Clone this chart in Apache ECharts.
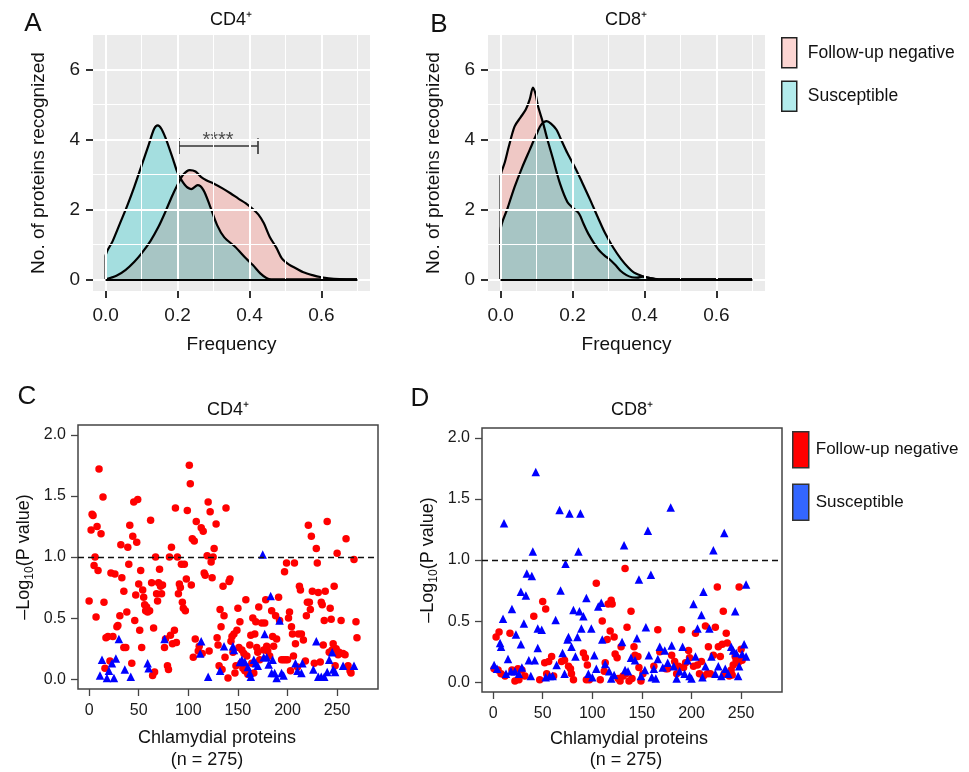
<!DOCTYPE html>
<html><head><meta charset="utf-8">
<script src="https://cdn.jsdelivr.net/npm/echarts@6/dist/echarts.min.js"></script>
<style>html,body{margin:0;padding:0;background:#fff}#c{width:969px;height:772px}</style>
</head><body><div id="c"></div>
<script>
// ---------- tick values ----------
const freqMajor = [0, 0.2, 0.4, 0.6];
const freqMinor = [0.1, 0.3, 0.5, 0.7];
const countMajor = [0, 2, 4, 6];
const countMinor = [1, 3, 5];
const densityRange = [0, 0.7];
const proteinTicks = [0, 50, 100, 150, 200, 250];
const pvalTicks = [0, 0.5, 1.0, 1.5, 2.0];
const pThreshold = 1.0;
const seriesNames = ['Follow-up negative', 'Susceptible'];

// ---------- A: CD4+ density (frequency, density) ----------
const cd4DensNeg = [[0,0],[0.03,0.1],[0.056,0.27],[0.08,0.5],[0.1,0.74],[0.125,1.1],[0.147,1.5],[0.165,1.9],[0.184,2.36],[0.2,2.7],[0.215,2.98],[0.234,3.12],[0.25,3.08],[0.265,2.93],[0.28,2.83],[0.3,2.74],[0.325,2.6],[0.347,2.46],[0.37,2.3],[0.39,2.17],[0.41,2.0],[0.425,1.85],[0.44,1.6],[0.456,1.22],[0.475,0.9],[0.49,0.6],[0.51,0.42],[0.53,0.31],[0.55,0.2],[0.575,0.12],[0.6,0.06],[0.62,0.03],[0.65,0.01],[0.7,0]];
const cd4DensSus = [[0,0],[0,0.65],[0.02,1.1],[0.04,1.6],[0.06,2.1],[0.08,2.65],[0.1,3.25],[0.12,3.85],[0.135,4.3],[0.145,4.4],[0.155,4.3],[0.17,3.95],[0.19,3.35],[0.2,3.05],[0.22,2.7],[0.238,2.58],[0.256,2.69],[0.272,2.55],[0.29,2.1],[0.31,1.55],[0.33,1.2],[0.36,0.93],[0.39,0.6],[0.41,0.4],[0.43,0.17],[0.447,0.04],[0.46,0],[0.7,0]];
const cd4Bracket = [0.202, 0.423];
const cd4BracketY = [3.58, 3.81, 4.03];
const cd4Signif = '****';

// ---------- B: CD8+ density ----------
const cd8DensNeg = [[0,0],[0,2.93],[0.012,3.35],[0.023,3.8],[0.039,4.37],[0.055,4.62],[0.07,4.85],[0.081,5.14],[0.09,5.48],[0.097,5.3],[0.104,4.95],[0.118,4.47],[0.13,4.0],[0.144,3.5],[0.165,2.74],[0.186,2.2],[0.2,2.05],[0.218,1.88],[0.23,1.6],[0.244,1.3],[0.27,0.88],[0.29,0.67],[0.302,0.58],[0.32,0.4],[0.334,0.24],[0.35,0.12],[0.365,0.06],[0.38,0.05],[0.395,0.08],[0.41,0.05],[0.43,0.01],[0.45,0],[0.7,0]];
const cd8DensSus = [[0,0],[0,1.4],[0.02,2.05],[0.039,2.64],[0.06,3.2],[0.081,3.7],[0.1,4.15],[0.113,4.42],[0.128,4.52],[0.14,4.45],[0.155,4.28],[0.17,3.95],[0.186,3.6],[0.21,3.13],[0.228,2.74],[0.25,2.25],[0.27,1.78],[0.29,1.33],[0.313,0.91],[0.335,0.58],[0.355,0.34],[0.37,0.2],[0.386,0.125],[0.4,0.07],[0.418,0.03],[0.444,0],[0.7,0]];

// ---------- C: CD4+ -log10(P) per protein ----------
const cd4Neg = [[0,0.64],[2,1.22],[3,1.35],[4,1.34],[5,0.93],[6,1.0],[7,0.51],[8,1.25],[9,0.89],[10,1.72],[12,1.19],[14,1.49],[15,0.63],[16,0.09],[17,0.34],[19,0.35],[21,0.15],[22,0.87],[24,0.35],[26,0.86],[28,0.43],[29,0.44],[31,0.52],[32,1.10],[33,0.83],[35,0.26],[35,0.72],[37,0.26],[38,0.55],[39,1.08],[40,0.94],[41,1.26],[43,0.13],[44,1.17],[45,1.45],[46,0.48],[47,0.69],[48,1.12],[49,1.47],[50,0.78],[51,0.40],[52,0.89],[53,0.26],[54,0.73],[55,0.67],[56,0.61],[57,0.56],[58,0.59],[59,0.55],[61,0.56],[62,1.30],[63,0.79],[64,0.03],[65,0.42],[66,0.06],[67,1.00],[68,0.70],[69,0.64],[70,0.79],[71,0.90],[72,0.76],[73,0.70],[74,0.77],[76,0.26],[77,0.33],[79,0.11],[80,0.08],[81,1.00],[82,0.36],[83,1.08],[84,0.29],[86,0.40],[87,1.40],[88,0.30],[89,1.00],[90,0.70],[91,0.78],[92,0.75],[93,0.94],[94,0.63],[95,0.58],[96,0.94],[97,0.56],[98,0.82],[99,1.38],[101,1.75],[102,1.60],[103,0.77],[104,1.15],[105,0.18],[106,1.13],[107,0.33],[108,1.29],[110,0.23],[111,0.27],[113,1.24],[114,0.21],[115,1.21],[116,0.87],[117,0.85],[119,1.01],[120,1.45],[121,0.23],[122,1.37],[123,0.96],[124,0.83],[125,1.0],[126,1.07],[128,1.27],[129,0.34],[130,0.28],[131,0.11],[132,0.57],[133,0.43],[134,0.08],[135,0.76],[136,0.52],[137,0.18],[138,1.40],[140,0.01],[141,0.80],[142,0.82],[143,0.31],[144,0.35],[145,0.22],[146,0.37],[147,0.05],[148,0.11],[149,0.40],[150,0.58],[151,0.26],[152,0.47],[153,0.13],[154,0.24],[155,0.09],[156,0.21],[157,0.07],[158,0.65],[159,0.19],[160,0.04],[162,0.28],[163,0.36],[164,0.13],[165,0.50],[166,0.05],[167,0.37],[168,0.47],[169,0.26],[170,0.22],[171,0.59],[172,0.16],[174,0.46],[176,0.24],[177,0.46],[178,0.65],[179,0.27],[180,0.23],[182,0.19],[184,0.56],[185,0.35],[186,0.27],[188,0.52],[189,0.33],[191,0.67],[192,0.48],[194,0.16],[196,0.16],[197,0.88],[198,0.16],[199,0.95],[200,0.16],[201,0.50],[202,0.55],[203,0.07],[204,0.43],[205,0.37],[206,0.19],[207,0.95],[208,0.29],[210,0.10],[211,0.37],[212,0.76],[213,0.73],[214,0.37],[216,0.32],[218,0.15],[219,0.52],[220,0.63],[221,1.26],[222,0.63],[223,0.57],[224,1.17],[225,0.72],[227,0.13],[229,1.07],[230,0.95],[231,0.71],[233,0.14],[234,0.63],[235,0.61],[236,0.28],[237,0.48],[238,0.72],[240,1.29],[242,0.22],[243,0.58],[244,0.49],[245,0.24],[246,0.29],[247,0.76],[248,0.11],[249,0.25],[250,1.03],[251,0.20],[252,0.22],[254,0.48],[256,0.21],[258,0.20],[259,1.15],[261,0.11],[263,0.07],[264,0.05],[267,0.98],[269,0.47],[270,0.34]];
const cd4Sus = [[11,0.03],[13,0.16],[18,0.01],[20,0.07],[23,0.13],[25,0.01],[27,0.17],[30,0.33],[36,0.08],[42,0.02],[59,0.13],[60,0.09],[76,0.33],[112,0.21],[113,0.31],[120,0.02],[132,0.07],[136,0.27],[145,0.27],[146,0.24],[152,0.14],[154,0.16],[157,0.14],[160,0.10],[162,0.05],[163,0.02],[166,0.16],[168,0.13],[170,0.11],[175,1.02],[176,0.18],[177,0.37],[179,0.18],[181,0.12],[183,0.68],[184,0.05],[185,0.16],[187,0.05],[189,0.01],[192,0.48],[194,0.05],[196,0.03],[208,0.13],[210,0.07],[214,0.05],[215,0.13],[226,0.08],[229,0.31],[231,0.02],[234,0.02],[237,0.02],[240,0.06],[242,0.16],[245,0.22],[246,0.08],[248,0.06],[256,0.11],[267,0.11]];

// ---------- D: CD8+ -log10(P) per protein ----------
const cd8Sus = [[1,0.14],[4,0.11],[7,0.32],[8,0.29],[10,0.52],[11,1.30],[13,0.07],[15,0.19],[18,0.09],[19,0.60],[22,0.09],[23,0.39],[26,0.07],[28,0.31],[29,0.12],[28,0.74],[31,0.48],[33,0.71],[34,0.89],[36,0.18],[38,0.05],[39,0.87],[40,1.07],[42,0.18],[43,1.72],[45,0.28],[45,0.44],[49,0.43],[53,0.04],[57,0.05],[60,0.05],[63,0.51],[64,0.14],[67,1.41],[68,0.75],[70,0.24],[72,0.07],[73,0.97],[75,0.35],[76,0.37],[77,1.38],[79,0.29],[81,0.59],[83,0.21],[85,0.37],[86,1.07],[87,0.58],[88,1.38],[89,0.44],[91,0.54],[94,0.69],[96,0.07],[99,0.44],[100,0.04],[102,0.22],[104,0.11],[106,0.62],[109,0.65],[110,0.35],[113,0.15],[117,0.09],[119,0.03],[122,0.06],[130,0.33],[132,1.12],[133,0.10],[136,0.09],[139,0.20],[143,0.18],[145,0.36],[147,0.84],[149,0.05],[153,0.10],[154,0.45],[156,1.24],[157,0.22],[159,0.88],[160,0.04],[162,0.11],[164,0.03],[166,0.19],[168,0.29],[171,0.12],[173,0.26],[176,0.16],[179,1.43],[180,0.30],[182,0.13],[185,0.03],[188,0.09],[191,0.29],[193,0.07],[196,0.18],[198,0.05],[200,0.03],[202,0.64],[204,0.21],[206,0.44],[210,0.55],[211,0.04],[212,0.74],[214,0.13],[218,0.44],[220,0.21],[222,1.08],[224,0.07],[227,0.13],[230,0.05],[233,1.22],[234,0.11],[237,0.07],[240,0.29],[242,0.26],[244,0.58],[245,0.24],[247,0.05],[248,0.13],[251,0.23],[253,0.31],[255,0.80],[255,0.21]];
const cd8Neg = [[1,0.11],[3,0.37],[5,0.10],[6,0.41],[8,0.07],[12,0.05],[17,0.40],[19,0.10],[22,0.01],[25,0.11],[26,0.02],[29,0.10],[32,0.05],[41,0.54],[47,0.02],[50,0.66],[52,0.16],[53,0.60],[54,0.07],[56,0.17],[59,0.21],[61,0.05],[69,0.17],[72,0.18],[76,0.13],[78,0.11],[79,0.07],[81,0.02],[91,0.24],[93,0.20],[94,0.02],[95,0.14],[97,0.02],[104,0.81],[108,0.02],[110,0.50],[112,0.09],[113,0.16],[115,0.35],[116,0.64],[118,0.42],[119,0.67],[120,0.64],[122,0.37],[123,0.23],[125,0.20],[126,0.03],[128,0.01],[129,0.29],[131,0.05],[133,0.93],[134,0.07],[135,0.45],[137,0.01],[139,0.58],[140,0.03],[142,0.29],[143,0.22],[146,0.21],[147,0.12],[149,0.01],[151,0.07],[162,0.13],[166,0.43],[168,0.25],[174,0.11],[176,0.11],[180,0.22],[183,0.17],[185,0.07],[187,0.13],[190,0.43],[192,0.12],[194,0.16],[197,0.26],[198,0.20],[202,0.13],[204,0.40],[206,0.14],[208,0.07],[210,0.17],[212,0.05],[214,0.46],[216,0.07],[217,0.29],[219,0.07],[222,0.22],[224,0.45],[226,0.78],[227,0.29],[229,0.21],[231,0.31],[232,0.58],[233,0.07],[235,0.40],[236,0.32],[238,0.05],[240,0.10],[241,0.06],[242,0.14],[244,0.21],[245,0.18],[247,0.16],[248,0.78],[250,0.27],[251,0.18]];

// ---------- styling ----------
const FONT = 'Liberation Sans, Arial, Helvetica, sans-serif';
const NEG_FILL = '#F8766D', SUS_FILL = '#00BFC4';

function gridLines(xi) {
  const d = [];
  freqMajor.forEach(v => d.push({xAxis: v, lineStyle: {width: 2}}));
  freqMinor.forEach(v => d.push({xAxis: v, lineStyle: {width: 1}}));
  countMajor.forEach(v => d.push({yAxis: v, lineStyle: {width: 2}}));
  countMinor.forEach(v => d.push({yAxis: v, lineStyle: {width: 1}}));
  return {
    type: 'line', xAxisIndex: xi, yAxisIndex: xi, data: [], silent: true, z: 1,
    markLine: {silent: true, symbol: ['none', 'none'], label: {show: false},
      lineStyle: {color: '#ffffff', type: 'solid', opacity: 1}, data: d, animation: false}
  };
}
function density(name, xi, data, color, withBase) {
  const s = {
    type: 'line', name: name, xAxisIndex: xi, yAxisIndex: xi, data: data,
    smooth: 0.3, showSymbol: false, symbol: 'none', z: 3,
    lineStyle: {color: '#000', width: 2.2},
    itemStyle: {color: color},
    areaStyle: {color: color, opacity: 0.3, origin: 0}
  };
  if (withBase) {
    s.markLine = {silent: true, symbol: ['none', 'none'], label: {show: false},
      lineStyle: {color: '#000', width: 2.2, type: 'solid'},
      data: [[{coord: [densityRange[0], 0]}, {coord: [densityRange[1], 0]}]]};
  }
  return s;
}
function topX(gi) {
  return {gridIndex: gi, type: 'value', min: -0.035, max: 0.735,
    axisLine: {show: false, onZero: false}, splitLine: {show: false},
    axisTick: {show: true, length: 7, customValues: freqMajor, lineStyle: {color: '#333', width: 2}},
    axisLabel: {customValues: freqMajor, formatter: v => v.toFixed(1), fontSize: 19, color: '#1a1a1a', margin: 15, fontFamily: FONT},
    name: 'Frequency', nameLocation: 'middle', nameGap: 44,
    nameTextStyle: {fontSize: 19, color: '#111', fontFamily: FONT}};
}
function topY(gi) {
  return {gridIndex: gi, type: 'value', min: -0.333, max: 6.98,
    axisLine: {show: false, onZero: false}, splitLine: {show: false},
    axisTick: {show: true, length: 7, customValues: countMajor, lineStyle: {color: '#333', width: 2}},
    axisLabel: {customValues: countMajor, fontSize: 19, color: '#1a1a1a', margin: 13, fontFamily: FONT},
    name: 'No. of proteins recognized', nameLocation: 'middle', nameGap: 45,
    nameTextStyle: {fontSize: 19, color: '#111', fontFamily: FONT}};
}
function botX(gi) {
  return {gridIndex: gi, type: 'value', min: -11.2, max: 291.2,
    axisLine: {show: false, onZero: false}, splitLine: {show: false},
    axisTick: {show: true, length: 7, customValues: proteinTicks, lineStyle: {color: '#444', width: 1.3}},
    axisLabel: {customValues: proteinTicks, fontSize: 16, color: '#1a1a1a', margin: 14, fontFamily: FONT}};
}
function botY(gi) {
  return {gridIndex: gi, type: 'value', min: -0.08, max: 2.08,
    axisLine: {show: false, onZero: false}, splitLine: {show: false},
    axisTick: {show: true, length: 7, customValues: pvalTicks, lineStyle: {color: '#444', width: 1.3}},
    axisLabel: {customValues: pvalTicks, formatter: v => v.toFixed(1), fontSize: 16, color: '#1a1a1a', margin: 12, fontFamily: FONT},
    name: '{m|–Log}{s|10}{m|(P value)}', nameLocation: 'middle', nameGap: 42,
    nameTextStyle: {color: '#111', fontFamily: FONT,
      rich: {m: {fontSize: 18, lineHeight: 24, color: '#111', fontFamily: FONT},
             s: {fontSize: 12, lineHeight: 12, verticalAlign: 'bottom', color: '#111', fontFamily: FONT}}}};
}
function pScatter(name, gi, data, color, symbol, size, withThreshold) {
  const s = {type: 'scatter', name: name, xAxisIndex: gi, yAxisIndex: gi, data: data,
    symbol: symbol, symbolSize: size, itemStyle: {color: color, opacity: 1}, z: 3};
  if (withThreshold) {
    s.markLine = {silent: true, symbol: ['none', 'none'], label: {show: false},
      lineStyle: {color: '#111', width: 1.3, type: [6, 4]}, data: [{yAxis: pThreshold}]};
  }
  return s;
}
function txt(x, y, text, size, align) {
  return {type: 'text', x: x, y: y, silent: true,
    style: {text: text, fontSize: size, fontFamily: FONT, fill: '#111', textAlign: align || 'center', textVerticalAlign: 'middle'}};
}

const chart = echarts.init(document.getElementById('c'), null, {renderer: 'canvas'});
chart.setOption({
  animation: false,
  backgroundColor: '#ffffff',
  textStyle: {fontFamily: FONT},
  grid: [
    {left: 93, top: 35, width: 277, height: 256, show: true, backgroundColor: '#EBEBEB', borderWidth: 0},
    {left: 488, top: 35, width: 277, height: 256, show: true, backgroundColor: '#EBEBEB', borderWidth: 0},
    {left: 78, top: 425, width: 300, height: 264, show: true, backgroundColor: '#fff', borderColor: '#444', borderWidth: 1.5},
    {left: 482, top: 428, width: 300, height: 264, show: true, backgroundColor: '#fff', borderColor: '#444', borderWidth: 1.5}
  ],
  xAxis: [topX(0), topX(1), botX(2), botX(3)],
  yAxis: [topY(0), topY(1), botY(2), botY(3)],
  legend: [
    {orient: 'vertical', left: 781, top: 37, padding: 0, itemWidth: 15, itemHeight: 30, itemGap: 12, selectedMode: false,
      textStyle: {fontSize: 17.5, color: '#111', fontFamily: FONT, padding: [0, 0, 0, 6]},
      data: [
        {name: seriesNames[0], icon: 'rect', itemStyle: {color: '#FCD5D2', borderColor: '#222', borderWidth: 1.5}},
        {name: seriesNames[1], icon: 'rect', itemStyle: {color: '#B3ECED', borderColor: '#222', borderWidth: 1.5}}
      ]},
    {orient: 'vertical', left: 792, top: 431, padding: 0, itemWidth: 16, itemHeight: 36, itemGap: 15, selectedMode: false,
      textStyle: {fontSize: 17, color: '#111', fontFamily: FONT, padding: [0, 0, 0, 2]},
      data: [
        {name: seriesNames[0], icon: 'rect', itemStyle: {color: '#FF0000', borderColor: '#333', borderWidth: 1.5}},
        {name: seriesNames[1], icon: 'rect', itemStyle: {color: '#3366FF', borderColor: '#333', borderWidth: 1.5}}
      ]}
  ],
  series: [
    gridLines(0),
    density(seriesNames[0], 0, cd4DensNeg, NEG_FILL, false),
    density(seriesNames[1], 0, cd4DensSus, SUS_FILL, true),
    {type: 'lines', coordinateSystem: 'cartesian2d', xAxisIndex: 0, yAxisIndex: 0, silent: true, z: 4,
      lineStyle: {color: '#333', width: 1.6, opacity: 1},
      data: [
        {coords: [[cd4Bracket[0], cd4BracketY[0]], [cd4Bracket[0], cd4BracketY[2]]]},
        {coords: [[cd4Bracket[0], cd4BracketY[1]], [cd4Bracket[1], cd4BracketY[1]]]},
        {coords: [[cd4Bracket[1], cd4BracketY[0]], [cd4Bracket[1], cd4BracketY[2]]]}
      ]},
    {type: 'scatter', xAxisIndex: 0, yAxisIndex: 0, silent: true, symbolSize: 0, z: 4,
      data: [[(cd4Bracket[0] + cd4Bracket[1]) / 2, cd4BracketY[2]]],
      label: {show: true, position: 'inside', formatter: cd4Signif, fontSize: 20, color: '#222', fontFamily: FONT, offset: [0, 2]}},
    gridLines(1),
    density(seriesNames[0], 1, cd8DensNeg, NEG_FILL, false),
    density(seriesNames[1], 1, cd8DensSus, SUS_FILL, true),
    pScatter(seriesNames[0], 2, cd4Neg, '#FF0000', 'circle', 7.5, true),
    pScatter(seriesNames[1], 2, cd4Sus, '#0000FF', 'triangle', 8.5, false),
    pScatter(seriesNames[0], 3, cd8Neg, '#FF0000', 'circle', 7.5, true),
    pScatter(seriesNames[1], 3, cd8Sus, '#0000FF', 'triangle', 8.5, false)
  ],
  graphic: [
    txt(33, 24, 'A', 26), txt(439, 25, 'B', 26), txt(27, 397, 'C', 26), txt(420, 399, 'D', 26),
    txt(231, 20, 'CD4⁺', 18), txt(626, 20, 'CD8⁺', 18),
    txt(228, 410, 'CD4⁺', 18), txt(632, 410, 'CD8⁺', 18),
    txt(217, 738, 'Chlamydial proteins', 18), txt(207, 760, '(n = 275)', 18),
    txt(629, 739, 'Chlamydial proteins', 18), txt(626, 760, '(n = 275)', 18)
  ]
});
</script></body></html>
